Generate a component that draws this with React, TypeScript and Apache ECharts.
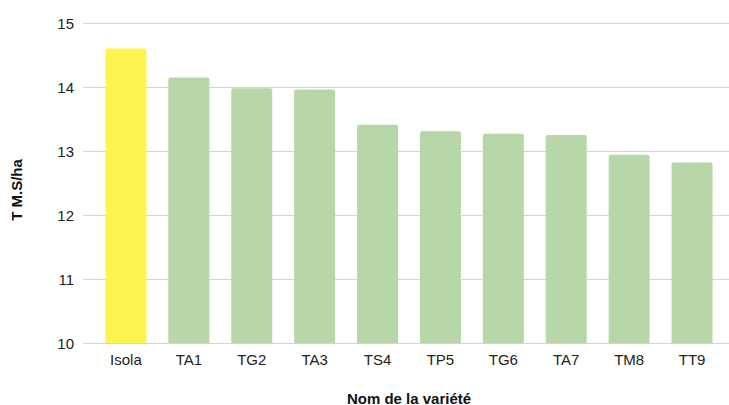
import React, { useEffect, useRef } from "react";
import * as echarts from "echarts";

const categories = ["Isola", "TA1", "TG2", "TA3", "TS4", "TP5", "TG6", "TA7", "TM8", "TT9"];
const values = [14.6, 14.15, 13.98, 13.96, 13.41, 13.31, 13.27, 13.25, 12.94, 12.82];
const highlighted = "Isola";
const yTitle = "T M.S/ha";
const xTitle = "Nom de la variété";

const FONT = "'Liberation Sans', Arial, sans-serif";

export default function App() {
  const ref = useRef<HTMLDivElement>(null);
  useEffect(() => {
    if (!ref.current) return;
    const chart = echarts.init(ref.current, null, { renderer: "svg" });
    chart.setOption({
      animation: false,
      backgroundColor: "#ffffff",
      textStyle: { fontFamily: FONT },
      grid: [
        { left: 83, right: 0, top: 23, bottom: 62 },
        { left: 94.5, right: 5.5, top: 23, bottom: 62 },
      ],
      xAxis: [
        { gridIndex: 0, type: "value", min: 0, max: 1, show: false },
        {
          gridIndex: 1,
          type: "category",
          data: categories,
          axisLine: { show: false },
          axisTick: { show: false },
          axisLabel: { color: "#222222", fontSize: 15, margin: 9, fontFamily: FONT },
        },
      ],
      yAxis: [
        {
          gridIndex: 0,
          type: "value",
          min: 10,
          max: 15,
          interval: 1,
          axisLine: { show: false },
          axisTick: { show: false },
          axisLabel: { color: "#222222", fontSize: 15, margin: 9, fontFamily: FONT },
          splitLine: { lineStyle: { color: "#d4d4d4", width: 1 } },
        },
        { gridIndex: 1, type: "value", min: 10, max: 15, show: false },
      ],
      series: [
        {
          type: "bar",
          xAxisIndex: 1,
          yAxisIndex: 1,
          barWidth: 41,
          data: values.map((v, i) => ({
            value: v,
            itemStyle: {
              color: categories[i] === highlighted ? "#fff44f" : "#b7d7a8",
              borderRadius: [2, 2, 0, 0],
            },
          })),
        },
      ],
      graphic: [
        {
          type: "text",
          x: 16,
          y: 190,
          rotation: Math.PI / 2,
          style: {
            text: yTitle,
            fontSize: 15,
            fontWeight: "bold",
            fontFamily: FONT,
            fill: "#111111",
            align: "center",
            verticalAlign: "middle",
          },
        },
        {
          type: "text",
          x: 409,
          y: 398,
          style: {
            text: xTitle,
            fontSize: 15,
            fontWeight: "bold",
            fontFamily: FONT,
            fill: "#111111",
            align: "center",
            verticalAlign: "middle",
          },
        },
      ],
    });
    return () => chart.dispose();
  }, []);
  return (
    <div
      ref={ref}
      style={{ position: "fixed", left: 0, top: 0, width: 729, height: 405 }}
    />
  );
}
